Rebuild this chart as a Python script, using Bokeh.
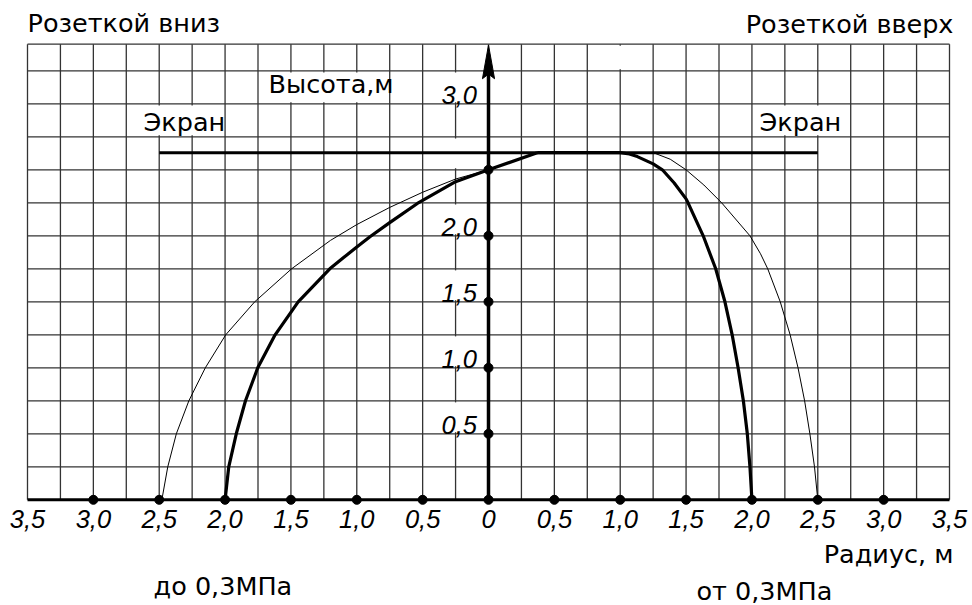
import numpy as np
from bokeh.plotting import figure
from bokeh.models import Range1d
from bokeh.embed import file_html
from bokeh.resources import INLINE
from bokeh.core.properties import value

# ---------------- data (metres) ----------------
# thick curve, left side ("розеткой вниз", до 0,3 МПа)
thick_left_x = [-2.00, -1.972, -1.915, -1.845, -1.752, -1.62, -1.445, -1.205,
                -1.10, -1.00, -0.90, -0.75, -0.54, -0.25, 0.00, 0.37]
thick_left_y = [0.00, 0.25, 0.50, 0.75, 1.00, 1.25, 1.50, 1.75,
                1.835, 1.915, 1.993, 2.10, 2.245, 2.41, 2.50, 2.63]
# thin curve, left side
thin_left_x = [-2.48, -2.435, -2.37, -2.275, -2.15, -1.995, -1.775, -1.495,
               -1.20, -1.00, -0.75, -0.50, -0.25, 0.00]
thin_left_y = [0.00, 0.25, 0.50, 0.75, 1.00, 1.25, 1.50, 1.75,
               1.965, 2.085, 2.215, 2.33, 2.43, 2.50]
# thick curve, right side ("розеткой вверх", от 0,3 МПа)
thick_right_x = [0.37, 1.00, 1.07, 1.13, 1.25, 1.32, 1.41, 1.50, 1.515, 1.63,
                 1.725, 1.795, 1.85, 1.895, 1.935, 1.965, 1.985, 2.00]
thick_right_y = [2.63, 2.63, 2.62, 2.60, 2.545, 2.50, 2.40, 2.28, 2.25, 2.00,
                 1.75, 1.50, 1.25, 1.00, 0.75, 0.50, 0.25, 0.00]
# thin curve, right side
thin_right_x = [1.25, 1.38, 1.50, 1.635, 1.77, 1.985, 2.065, 2.12, 2.215, 2.29,
                2.35, 2.40, 2.44, 2.475, 2.50]
thin_right_y = [2.63, 2.58, 2.50, 2.385, 2.25, 2.00, 1.864, 1.75, 1.50, 1.25,
                1.00, 0.75, 0.50, 0.25, 0.00]
# screen ("Экран")
screen_x = [-2.5, 2.5]
screen_y = [2.63, 2.63]

# axis ticks / labels
x_tick_vals = [-3.5, -3.0, -2.5, -2.0, -1.5, -1.0, -0.5, 0.0,
               0.5, 1.0, 1.5, 2.0, 2.5, 3.0, 3.5]
x_tick_text = ["3,5", "3,0", "2,5", "2,0", "1,5", "1,0", "0,5", "0",
               "0,5", "1,0", "1,5", "2,0", "2,5", "3,0", "3,5"]
x_dot_vals = [-3.0, -2.5, -2.0, -1.5, -1.0, -0.5, 0.0,
              0.5, 1.0, 1.5, 2.0, 2.5, 3.0]
y_tick_vals = [0.5, 1.0, 1.5, 2.0, 3.0]
y_tick_text = ["0,5", "1,0", "1,5", "2,0", "3,0"]
y_dot_vals = [0.5, 1.0, 1.5, 2.0, 2.5]

X_MIN, X_MAX = -3.5, 3.5
Y_TOP = 3.452          # top border of the grid
GRID_STEP = 0.25

# ---------------- layout ----------------
W, H = 972, 605
FRAME_L, FRAME_R = 27, 949     # canvas px of x=-3.5 and x=3.5
ZERO_Y = 499.3                 # canvas px of y=0 (from top)
PXM_X = (FRAME_R - FRAME_L) / (X_MAX - X_MIN)
PXM_Y = 132.0

x_range = Range1d(X_MIN - FRAME_L / PXM_X, X_MAX + (W - FRAME_R) / PXM_X)
y_range = Range1d(-(H - ZERO_Y) / PXM_Y, ZERO_Y / PXM_Y)

p = figure(width=W, height=H, x_range=x_range, y_range=y_range,
           x_axis_type=None, y_axis_type=None, title=None,
           toolbar_location=None, output_backend="svg", min_border=0)
p.outline_line_color = None
p.background_fill_color = "white"
p.border_fill_color = "white"

GRID_COLOR = "#333333"
SANS = value("DejaVu Sans")
NUM = value("Liberation Sans")
FS = "25.5px"

# grid
grid_x = np.arange(X_MIN, X_MAX + 1e-9, GRID_STEP)
grid_y = np.append(np.arange(GRID_STEP, 3.25 + 1e-9, GRID_STEP), Y_TOP)
p.segment(x0=grid_x, y0=0, x1=grid_x, y1=Y_TOP, line_color=GRID_COLOR, line_width=1.3)
p.segment(x0=X_MIN, y0=grid_y, x1=X_MAX, y1=grid_y, line_color=GRID_COLOR, line_width=1.3)

# white gaps in the vertical grid lines behind the texts (as in the drawing)
e = 0.012
mask_l = [-1.70] + [-0.36] * 6 + [-2.60, 2.12, 0.90]
mask_r = [-0.80] + [-0.14] * 6 + [-2.10, 2.62, 1.10]
mask_b = [3.0, 0.5, 1.0, 1.5, 2.0, 2.5, 3.0, 2.75, 2.75, 3.25]
mask_t = [b + GRID_STEP for b in mask_b[:-1]] + [Y_TOP]
p.quad(left=mask_l, right=mask_r,
       bottom=[b + e for b in mask_b], top=[t - e for t in mask_t],
       fill_color="white", line_color=None)

# screen
p.line(screen_x, screen_y, line_color="black", line_width=3)

# curves
p.line(thin_left_x, thin_left_y, line_color="black", line_width=1, line_join="round")
p.line(thin_right_x, thin_right_y, line_color="black", line_width=1, line_join="round")
p.line(thick_left_x, thick_left_y, line_color="black", line_width=3.2, line_join="round")
p.line(thick_right_x, thick_right_y, line_color="black", line_width=3.2, line_join="round")

# axes
p.segment(x0=X_MIN, y0=0, x1=X_MAX, y1=0, line_color="black", line_width=3)
p.segment(x0=0, y0=0, x1=0, y1=3.30, line_color="black", line_width=3.5)
# arrow head of the vertical axis
ah_len, ah_half, ah_notch = 0.255, 0.046, 0.035
tip = 3.445
p.patch([0, -ah_half, 0, ah_half], [tip, tip - ah_len, tip - ah_len + ah_notch, tip - ah_len],
        fill_color="black", line_color="black", line_width=1)

# dots
p.scatter(x_dot_vals, [0] * len(x_dot_vals), size=9, color="black")
p.scatter([0] * len(y_dot_vals), y_dot_vals, size=9, color="black")

# tick labels (anchors are the vertical centres of the texts)
p.text(x=x_tick_vals, y=-0.145, text=x_tick_text, text_align="center",
       text_baseline="middle", text_font=NUM, text_font_style="italic",
       text_font_size=FS, text_color="black")
p.text(x=-0.087, y=[v + 0.066 for v in y_tick_vals], text=y_tick_text, text_align="right",
       text_baseline="middle", text_font=NUM, text_font_style="italic",
       text_font_size=FS, text_color="black")

# other texts
texts = [
    ("Розеткой вниз", -3.50, 3.610, "left"),
    ("Розеткой вверх", 3.53, 3.607, "right"),
    ("Высота,м", -1.67, 3.148, "left"),
    ("Экран", -2.619, 2.864, "left"),
    ("Экран", 2.058, 2.860, "left"),
    ("Радиус, м", 3.53, -0.409, "right"),
    ("до 0,3МПа", -2.543, -0.656, "left"),
    ("от 0,3МПа", 1.579, -0.690, "left"),
]
for t, x, y, al in texts:
    p.text(x=[x], y=[y], text=[t], text_align=al, text_baseline="middle",
           text_font=SANS, text_font_size=FS, text_color="black")

open("out.html", "w").write(file_html(p, INLINE))
